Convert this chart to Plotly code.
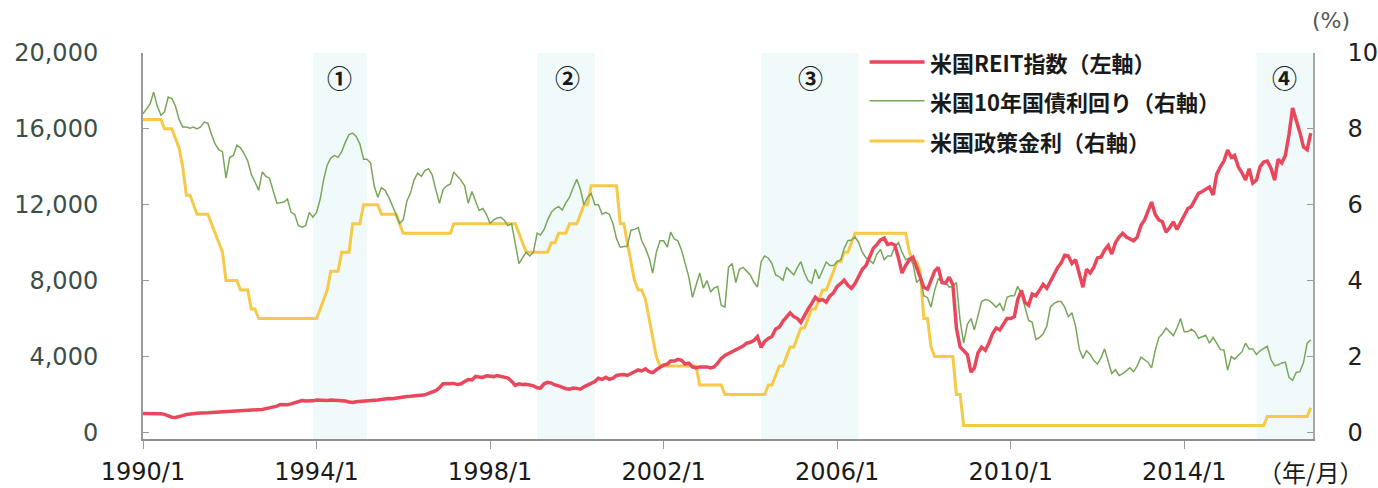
import pandas as pd
import plotly.graph_objects as go

# ---------------- data (monthly, 1990/1 - 2016/12) ----------------
months = pd.date_range("1990-01-01", "2016-12-01", freq="MS")

reit_index = [
    1000, 1000, 990, 980, 990, 980, 950, 880, 800, 790, 820, 880,          # 1990
    940, 980, 1000, 1010, 1020, 1010, 1030, 1050, 1060, 1070, 1080, 1120,  # 1991
    1140, 1150, 1140, 1150, 1170, 1160, 1180, 1190, 1200, 1210, 1250, 1290,  # 1992
    1330, 1380, 1470, 1450, 1460, 1500, 1560, 1620, 1680, 1650, 1640, 1660,  # 1993
    1700, 1680, 1660, 1680, 1700, 1690, 1710, 1690, 1650, 1600, 1570, 1610,  # 1994
    1620, 1630, 1650, 1640, 1690, 1710, 1750, 1760, 1790, 1770, 1800, 1860,  # 1995
    1880, 1890, 1900, 1900, 1940, 1960, 1980, 2050, 2110, 2200, 2350, 2560,  # 1996
    2560, 2580, 2580, 2520, 2560, 2680, 2780, 2760, 2950, 2920, 2900, 2980,  # 1997
    2960, 2940, 2990, 2930, 2880, 2860, 2700, 2480, 2560, 2520, 2530, 2480,  # 1998
    2450, 2350, 2330, 2560, 2640, 2600, 2500, 2450, 2350, 2300, 2280, 2340,  # 1999
    2320, 2280, 2400, 2500, 2550, 2680, 2850, 2790, 2900, 2800, 2860, 3000,  # 2000
    3040, 3050, 3000, 3100, 3200, 3290, 3240, 3350, 3200, 3150, 3300, 3400,  # 2001
    3550, 3600, 3760, 3760, 3850, 3800, 3600, 3650, 3450, 3400, 3450, 3450,  # 2002
    3450, 3400, 3450, 3650, 3900, 4050, 4150, 4220, 4350, 4450, 4550, 4700,  # 2003
    4750, 4850, 5050, 4480, 4800, 4950, 5050, 5450, 5550, 5850, 6100, 6300,  # 2004
    6100, 6000, 5800, 6200, 6500, 6800, 7120, 6950, 7000, 6860, 7200, 7350,  # 2005
    7700, 7850, 8020, 7750, 7600, 7850, 8250, 8600, 8800, 9250, 9700, 9900,  # 2006
    10150, 10240, 9900, 9950, 9880, 9200, 8400, 8800, 9100, 9230, 8700, 8100,  # 2007
    7650, 7550, 8000, 8500, 8700, 7900, 7860, 8180, 7800, 5500, 4500, 4300,  # 2008
    4100, 3170, 3400, 4200, 4490, 4330, 4700, 5200, 5500, 5400, 5750, 6000,  # 2009
    6000, 6100, 7000, 7490, 6860, 6700, 7300, 7200, 7500, 7800, 7600, 7950,  # 2010
    8300, 8700, 8920, 9340, 9300, 8900, 9100, 8300, 7650, 8600, 8400, 8700,  # 2011
    9200, 9250, 9600, 9850, 9400, 10000, 10300, 10500, 10300, 10200, 10100, 10290,  # 2012
    10900, 11200, 11600, 12140, 11500, 11200, 11100, 10550, 10800, 11100, 10700, 11030,  # 2013
    11400, 11800, 11900, 12300, 12600, 12700, 12800, 12930, 12510, 13600, 14000, 14300,  # 2014
    14880, 14500, 14600, 14000, 13700, 13300, 13900, 13140, 13300, 14000, 14250, 14300,  # 2015
    13930, 13300, 14400, 14200, 14600, 15700, 17100, 16500, 15800, 15040, 14900, 15780,  # 2016
]

treasury_10y = [
    8.40, 8.55, 8.65, 8.97, 8.60, 8.36, 8.45, 8.84, 8.80, 8.60, 8.25, 8.05,  # 1990
    8.05, 8.02, 8.05, 8.00, 8.05, 8.18, 8.15, 7.85, 7.60, 7.45, 7.40, 6.70,  # 1991
    7.25, 7.30, 7.57, 7.50, 7.35, 7.15, 6.80, 6.60, 6.38, 6.86, 6.75, 6.70,  # 1992
    6.40, 6.04, 6.05, 6.07, 6.15, 5.80, 5.75, 5.45, 5.41, 5.45, 5.80, 5.67,  # 1993
    5.80, 6.15, 6.65, 7.05, 7.23, 7.30, 7.25, 7.40, 7.65, 7.85, 7.89, 7.80,  # 1994
    7.60, 7.20, 7.20, 7.10, 6.50, 6.20, 6.45, 6.38, 6.20, 6.00, 5.75, 5.51,  # 1995
    5.60, 6.10, 6.30, 6.65, 6.83, 6.75, 6.90, 6.95, 6.78, 6.40, 6.04, 6.40,  # 1996
    6.50, 6.55, 6.86, 6.75, 6.65, 6.50, 6.04, 6.35, 6.10, 5.85, 5.90, 5.75,  # 1997
    5.51, 5.60, 5.65, 5.67, 5.59, 5.45, 5.50, 5.00, 4.45, 4.60, 4.75, 4.65,  # 1998
    4.75, 5.25, 5.20, 5.35, 5.60, 5.80, 5.90, 5.95, 5.86, 6.05, 6.20, 6.45,  # 1999
    6.67, 6.40, 6.00, 6.20, 6.30, 6.00, 6.00, 5.75, 5.80, 5.75, 5.50, 5.10,  # 2000
    4.88, 4.90, 4.90, 5.33, 5.35, 5.40, 5.05, 4.85, 4.60, 4.20, 4.75, 5.05,  # 2001
    5.05, 4.88, 5.28, 5.10, 5.05, 4.80, 4.45, 4.10, 3.56, 3.90, 4.20, 3.80,  # 2002
    4.00, 3.70, 3.80, 3.85, 3.35, 3.30, 4.35, 4.45, 3.95, 4.30, 4.35, 4.25,  # 2003
    4.15, 3.95, 3.83, 4.50, 4.65, 4.59, 4.45, 4.15, 4.10, 4.01, 4.35, 4.25,  # 2004
    4.15, 4.35, 4.50, 4.20, 4.00, 3.93, 4.30, 4.05, 4.30, 4.49, 4.40, 4.40,  # 2005
    4.50, 4.55, 4.85, 5.05, 5.07, 5.15, 5.00, 4.75, 4.60, 4.54, 4.45, 4.70,  # 2006
    4.82, 4.55, 4.65, 4.65, 4.90, 5.00, 4.75, 4.55, 4.60, 4.45, 3.95, 4.05,  # 2007
    3.60, 3.55, 3.30, 3.75, 4.05, 3.97, 3.95, 3.83, 3.85, 3.95, 2.95, 2.35,  # 2008
    2.85, 3.00, 2.70, 3.10, 3.45, 3.50, 3.48, 3.40, 3.30, 3.40, 3.20, 3.56,  # 2009
    3.60, 3.60, 3.85, 3.65, 3.30, 2.95, 2.90, 2.45, 2.50, 2.60, 2.80, 3.30,  # 2010
    3.40, 3.45, 3.45, 3.30, 3.05, 3.15, 2.80, 2.20, 1.95, 2.15, 2.05, 1.90,  # 2011
    1.80, 1.97, 2.20, 1.90, 1.55, 1.65, 1.50, 1.55, 1.62, 1.70, 1.60, 1.75,  # 2012
    1.98, 1.90, 1.85, 1.70, 2.15, 2.50, 2.60, 2.75, 2.65, 2.55, 2.75, 3.00,  # 2013
    2.65, 2.65, 2.72, 2.65, 2.48, 2.53, 2.56, 2.35, 2.50, 2.35, 2.18, 2.17,  # 2014
    1.64, 2.00, 1.93, 2.03, 2.12, 2.35, 2.20, 2.20, 2.05, 2.15, 2.21, 2.27,  # 2015
    1.92, 1.75, 1.78, 1.83, 1.85, 1.45, 1.37, 1.58, 1.60, 1.84, 2.35, 2.44,  # 2016
]

policy_rate = [
    8.25, 8.25, 8.25, 8.25, 8.25, 8.25, 8.00, 8.00, 8.00, 7.75, 7.50, 7.00,  # 1990
    6.25, 6.25, 6.00, 5.75, 5.75, 5.75, 5.75, 5.50, 5.25, 5.00, 4.75, 4.00,  # 1991
    4.00, 4.00, 4.00, 3.75, 3.75, 3.75, 3.25, 3.25, 3.00, 3.00, 3.00, 3.00,  # 1992
    3.00, 3.00, 3.00, 3.00, 3.00, 3.00, 3.00, 3.00, 3.00, 3.00, 3.00, 3.00,  # 1993
    3.00, 3.25, 3.50, 3.75, 4.25, 4.25, 4.25, 4.75, 4.75, 4.75, 5.50, 5.50,  # 1994
    5.50, 6.00, 6.00, 6.00, 6.00, 6.00, 5.75, 5.75, 5.75, 5.75, 5.75, 5.50,  # 1995
    5.25, 5.25, 5.25, 5.25, 5.25, 5.25, 5.25, 5.25, 5.25, 5.25, 5.25, 5.25,  # 1996
    5.25, 5.25, 5.50, 5.50, 5.50, 5.50, 5.50, 5.50, 5.50, 5.50, 5.50, 5.50,  # 1997
    5.50, 5.50, 5.50, 5.50, 5.50, 5.50, 5.50, 5.50, 5.25, 5.00, 4.75, 4.75,  # 1998
    4.75, 4.75, 4.75, 4.75, 4.75, 5.00, 5.00, 5.25, 5.25, 5.25, 5.50, 5.50,  # 1999
    5.50, 5.75, 6.00, 6.00, 6.50, 6.50, 6.50, 6.50, 6.50, 6.50, 6.50, 6.50,  # 2000
    5.50, 5.50, 5.00, 4.50, 4.00, 3.75, 3.75, 3.50, 3.00, 2.50, 2.00, 1.75,  # 2001
    1.75, 1.75, 1.75, 1.75, 1.75, 1.75, 1.75, 1.75, 1.75, 1.75, 1.25, 1.25,  # 2002
    1.25, 1.25, 1.25, 1.25, 1.25, 1.00, 1.00, 1.00, 1.00, 1.00, 1.00, 1.00,  # 2003
    1.00, 1.00, 1.00, 1.00, 1.00, 1.25, 1.25, 1.50, 1.75, 1.75, 2.00, 2.25,  # 2004
    2.25, 2.50, 2.75, 2.75, 3.00, 3.25, 3.25, 3.50, 3.75, 3.75, 4.00, 4.25,  # 2005
    4.50, 4.50, 4.75, 4.75, 5.00, 5.25, 5.25, 5.25, 5.25, 5.25, 5.25, 5.25,  # 2006
    5.25, 5.25, 5.25, 5.25, 5.25, 5.25, 5.25, 5.25, 4.75, 4.50, 4.50, 4.25,  # 2007
    3.00, 3.00, 2.25, 2.00, 2.00, 2.00, 2.00, 2.00, 2.00, 1.00, 1.00, 0.18,  # 2008
    0.18, 0.18, 0.18, 0.18, 0.18, 0.18, 0.18, 0.18, 0.18, 0.18, 0.18, 0.18,  # 2009
    0.18, 0.18, 0.18, 0.18, 0.18, 0.18, 0.18, 0.18, 0.18, 0.18, 0.18, 0.18,  # 2010
    0.18, 0.18, 0.18, 0.18, 0.18, 0.18, 0.18, 0.18, 0.18, 0.18, 0.18, 0.18,  # 2011
    0.18, 0.18, 0.18, 0.18, 0.18, 0.18, 0.18, 0.18, 0.18, 0.18, 0.18, 0.18,  # 2012
    0.18, 0.18, 0.18, 0.18, 0.18, 0.18, 0.18, 0.18, 0.18, 0.18, 0.18, 0.18,  # 2013
    0.18, 0.18, 0.18, 0.18, 0.18, 0.18, 0.18, 0.18, 0.18, 0.18, 0.18, 0.18,  # 2014
    0.18, 0.18, 0.18, 0.18, 0.18, 0.18, 0.18, 0.18, 0.18, 0.18, 0.18, 0.42,  # 2015
    0.42, 0.42, 0.42, 0.42, 0.42, 0.42, 0.42, 0.42, 0.42, 0.42, 0.42, 0.65,  # 2016
]

x_tick_vals = ["1990-01-01", "1994-01-01", "1998-01-01", "2002-01-01",
               "2006-01-01", "2010-01-01", "2014-01-01"]
x_tick_text = ["1990/1", "1994/1", "1998/1", "2002/1", "2006/1", "2010/1", "2014/1"]
left_tick_vals = [0, 4000, 8000, 12000, 16000, 20000]
left_tick_text = ["0", "4,000", "8,000", "12,000", "16,000", "20,000"]
right_tick_vals = [0, 2, 4, 6, 8, 10]

# shaded periods and their labels
period_starts = ["1993-12-01", "1999-02-01", "2004-04-01", "2015-09-01"]
period_ends = ["1995-03-01", "2000-06-01", "2006-07-01", "2016-12-20"]
period_labels = ["①", "②", "③", "④"]
period_label_pos = ["1994-07-15", "1999-10-15", "2005-05-20", "2016-04-20"]

series_names = ["米国REIT指数（左軸）", "米国10年国債利回り（右軸）", "米国政策金利（右軸）"]

# ---------------- style ----------------
RED = "#e8475c"
GREEN = "#79a65b"
YELLOW = "#f6c947"
NUM_FONT = "DejaVu Sans"
JP_FONT = "Noto Sans CJK JP"

fig = go.Figure()

fig.add_trace(go.Scatter(x=months, y=policy_rate, mode="lines", yaxis="y",
                         line=dict(color=YELLOW, width=3), name=series_names[2],
                         showlegend=False))
fig.add_trace(go.Scatter(x=months, y=treasury_10y, mode="lines", yaxis="y",
                         line=dict(color=GREEN, width=1.5), name=series_names[1],
                         showlegend=False))
fig.add_trace(go.Scatter(x=months, y=reit_index, mode="lines", yaxis="y2",
                         line=dict(color=RED, width=3.5), name=series_names[0],
                         showlegend=False))

shapes = []
for s, e in zip(period_starts, period_ends):
    shapes.append(dict(type="rect", xref="x", yref="paper", x0=s, x1=e, y0=0, y1=1,
                       fillcolor="#f0fafa", line=dict(width=0), layer="below"))

# manual legend
legend_y = [0.977, 0.876, 0.772]
legend_colors = [RED, GREEN, YELLOW]
legend_widths = [3.5, 1.5, 3]
annotations = []
for name, yy, col, w in zip(series_names, legend_y, legend_colors, legend_widths):
    shapes.append(dict(type="line", xref="paper", yref="paper", x0=0.621, x1=0.668,
                       y0=yy, y1=yy, line=dict(color=col, width=w)))
    annotations.append(dict(xref="paper", yref="paper", x=0.671, y=yy, text=name,
                            showarrow=False, xanchor="left", yanchor="middle",
                            font=dict(family=JP_FONT, size=22, color="#1a1a1a",
                                      weight="bold")))

for lbl, pos in zip(period_labels, period_label_pos):
    annotations.append(dict(xref="x", yref="paper", x=pos, y=0.938, text=lbl,
                            showarrow=False, xanchor="center", yanchor="middle",
                            font=dict(family=JP_FONT, size=25, color="#1a1a1a",
                                      weight="bold")))

annotations.append(dict(xref="paper", yref="paper", x=1.015, y=1.085, text="(%)",
                        showarrow=False, xanchor="center", yanchor="middle",
                        font=dict(family=NUM_FONT, size=22, color="#555555")))
annotations.append(dict(xref="paper", yref="paper", x=0.998, y=-0.085, text="（年/月）",
                        showarrow=False, xanchor="center", yanchor="middle",
                        font=dict(family=JP_FONT, size=24, color="#1a1a1a")))

fig.update_layout(
    width=1378, height=488,
    margin=dict(l=143, r=65, t=53, b=49, pad=0, autoexpand=False),
    paper_bgcolor="white", plot_bgcolor="white",
    showlegend=False,
    shapes=shapes, annotations=annotations,
    xaxis=dict(type="date", range=["1990-01-01", "2016-12-20"],
               tickvals=x_tick_vals, ticktext=x_tick_text,
               ticks="outside", ticklen=8, tickwidth=1, tickcolor="#999999",
               showline=True, linecolor="#8f8f8f", linewidth=2,
               showgrid=False, zeroline=False, automargin=False,
               tickfont=dict(family=NUM_FONT, size=24, color="#1a1a1a"),
               ticklabelstandoff=2),
    yaxis=dict(range=[-0.175, 10], side="right",
               tickvals=right_tick_vals,
               ticks="inside", ticklen=6, tickcolor="#999999",
               showline=True, linecolor="#a8a8a8", linewidth=1.5,
               showgrid=False, zeroline=False, automargin=False,
               tickfont=dict(family=NUM_FONT, size=24, color="#222222"),
               ticklabelstandoff=28),
    yaxis2=dict(range=[-350, 20000], side="left", overlaying="y",
                tickvals=left_tick_vals, ticktext=left_tick_text,
                ticks="inside", ticklen=6, tickcolor="#999999",
                showline=True, linecolor="#999999", linewidth=2,
                showgrid=False, zeroline=False, automargin=False,
                tickfont=dict(family=NUM_FONT, size=24, color="#3b4f48"),
                ticklabelstandoff=38),
)

fig.write_html("out.html")
